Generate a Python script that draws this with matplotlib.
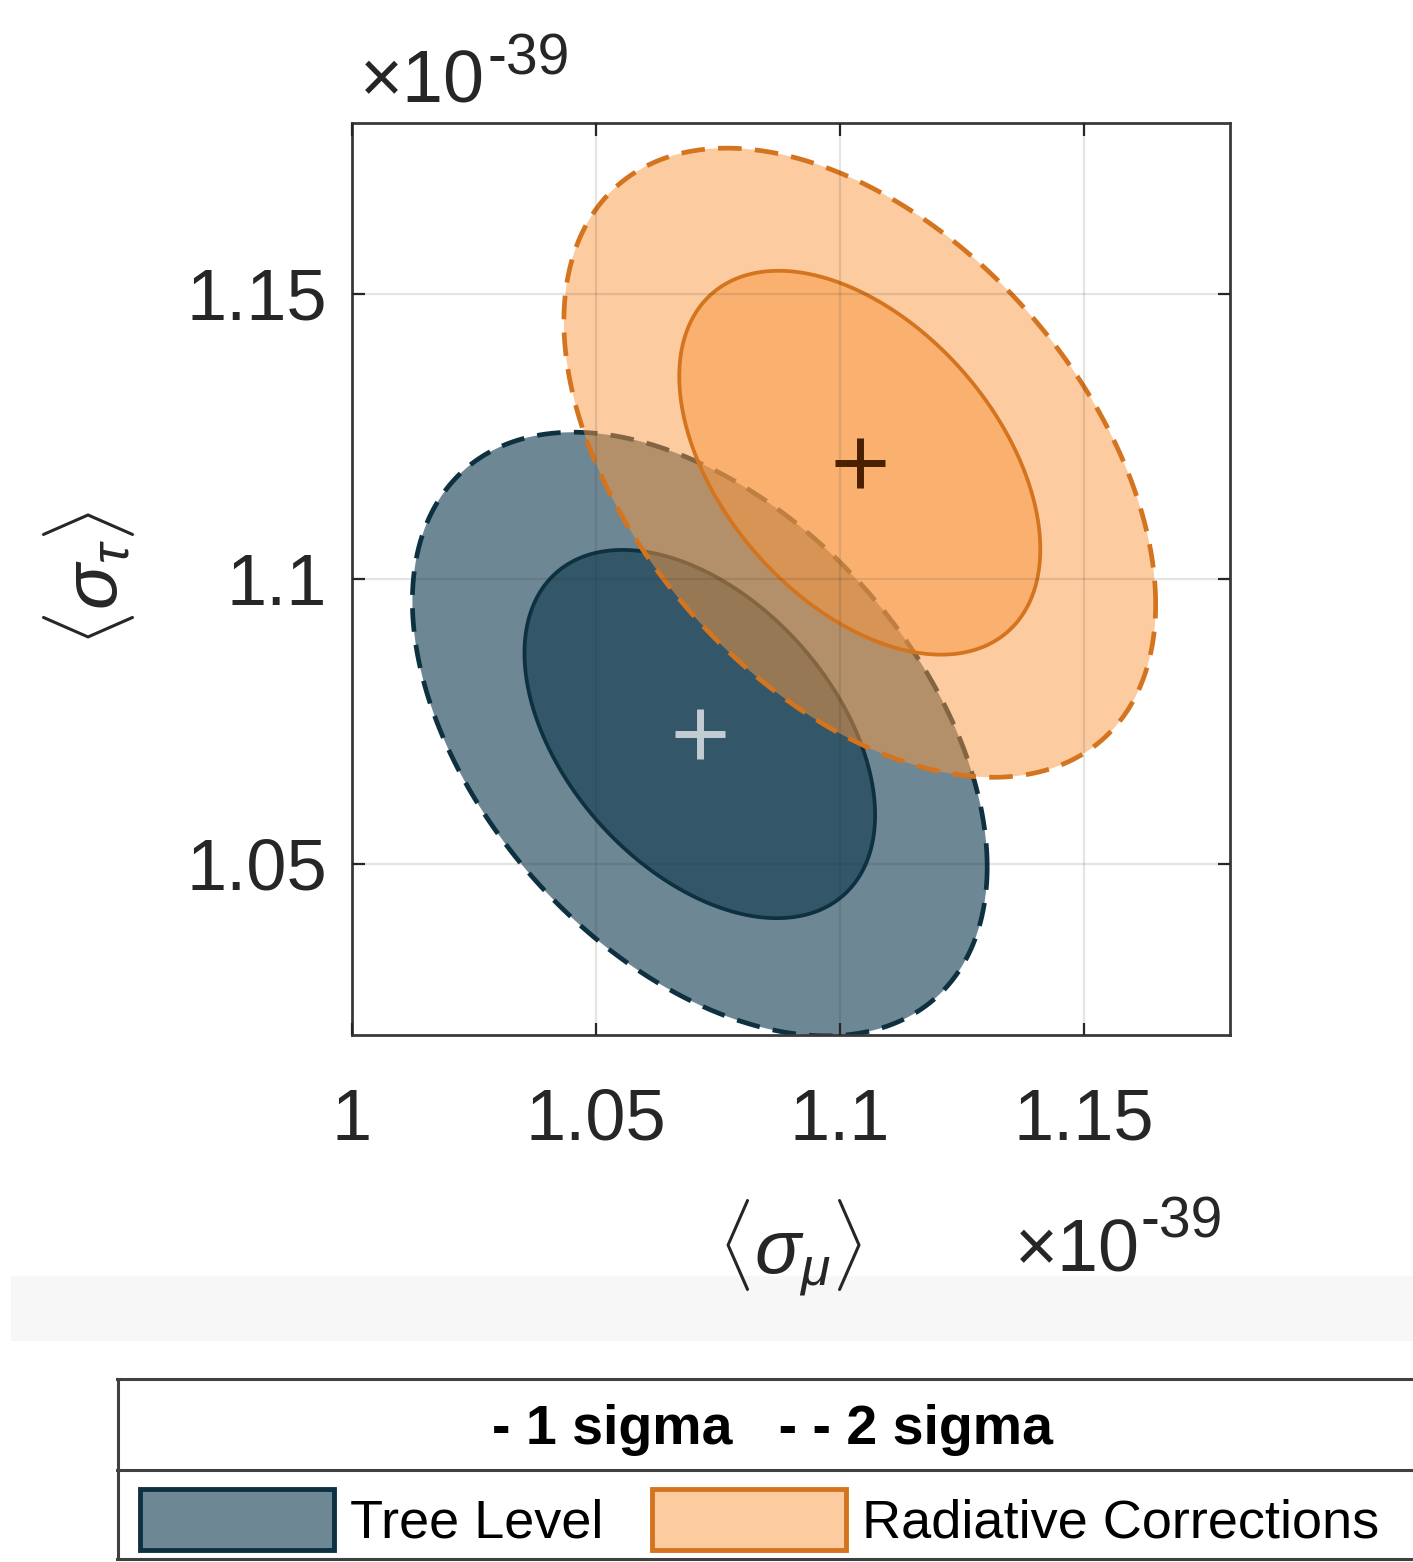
import numpy as np
import matplotlib
matplotlib.use("Agg")
import matplotlib.pyplot as plt
from matplotlib.patches import Rectangle
from matplotlib.lines import Line2D

plt.rcParams["font.family"] = ["Liberation Sans", "DejaVu Sans"]
plt.rcParams["mathtext.fontset"] = "custom"
plt.rcParams["mathtext.rm"] = "Liberation Sans"
plt.rcParams["mathtext.it"] = "Liberation Sans:italic"

# cross sections in units of 1e-39
SCALE_EXP = "-39"
models = ["Tree Level", "Radiative Corrections"]
mean_mu = [1.0713, 1.1041]
mean_tau = [1.0728, 1.1204]
sig_mu = [0.0237, 0.0244]
sig_tau = [0.0213, 0.0222]
rho = [-0.44, -0.45]

# chi^2 quantiles for 2 dof: 1 sigma (68.3%) and 2 sigma (95.4%)
levels = ["1 sigma", "2 sigma"]
chi2_levels = [2.30, 6.18]

face_colors = ["#0d384d", "#fa9942"]
face_alpha = [0.6, 0.5]
edge_colors = ["#0e3142", "#d4741f"]
center_colors = ["#c3ccd1", "#4a2000"]

xticks = [1.0, 1.05, 1.1, 1.15]
yticks = [1.05, 1.1, 1.15]
xlim = (1.0, 1.18)
ylim = (1.02, 1.18)

W, H = 1413, 1562
fig = plt.figure(figsize=(W / 100, H / 100), dpi=100, facecolor="white")

# overlay in pixel units for the background band and the legend box
ov = fig.add_axes([0, 0, 1, 1], zorder=0)
ov.set_xlim(0, W)
ov.set_ylim(H, 0)
ov.set_axis_off()

ax = fig.add_axes([352 / W, 1 - 1035 / H, 878 / W, 912 / H], zorder=1)


def ellipse(cx, cy, sx, sy, r, chi2, n=400):
    t = np.linspace(0, 2 * np.pi, n)
    cov = np.array([[sx ** 2, r * sx * sy], [r * sx * sy, sy ** 2]])
    L = np.linalg.cholesky(cov)
    pts = np.sqrt(chi2) * L @ np.vstack([np.cos(t), np.sin(t)])
    return cx + pts[0], cy + pts[1]


for i in range(len(models)):
    for chi2, ls in zip(chi2_levels[::-1], [(0, (5, 2.8)), "-"]):
        x, y = ellipse(mean_mu[i], mean_tau[i], sig_mu[i], sig_tau[i], rho[i], chi2)
        ax.fill(x, y, facecolor=matplotlib.colors.to_rgba(face_colors[i], face_alpha[i]),
                edgecolor=edge_colors[i], lw=3.4 if ls != "-" else 2.7, linestyle=ls,
                zorder=1)
    ax.plot(mean_mu[i], mean_tau[i], marker="+", ms=36, mew=5,
            color=center_colors[i], zorder=3, linestyle="none")

ax.set_xlim(*xlim)
ax.set_ylim(*ylim)
ax.set_xticks(xticks)
ax.set_yticks(yticks)
ax.xaxis.set_major_formatter(matplotlib.ticker.FuncFormatter(lambda v, p: f"{v:g}"))
ax.yaxis.set_major_formatter(matplotlib.ticker.FuncFormatter(lambda v, p: f"{v:g}"))
ax.grid(True, color=(0.15, 0.15, 0.15), alpha=0.12, lw=1.6)
ax.set_axisbelow(False)
ax.tick_params(direction="in", length=9, width=1.6, color="#262626",
               top=True, right=True, labelsize=52, labelcolor="#262626")
ax.tick_params(axis="x", pad=38)
ax.tick_params(axis="y", pad=18)
for s in ax.spines.values():
    s.set_color("#3a3a3a")
    s.set_linewidth(2.0)

ax.set_xlabel(r"$\langle\sigma_{\mu}\rangle$", fontsize=55, color="#262626")
ax.set_ylabel(r"$\langle\sigma_{\tau}\rangle$", fontsize=55, color="#262626")
ax.xaxis.set_label_coords(0.499, -0.178)
ax.yaxis.set_label_coords(-0.245, 0.5)

# exponent labels
ax.annotate("\u00d710", xy=(0.009, 1.0), xycoords="axes fraction", xytext=(0, 14.4),
            textcoords="offset points", fontsize=53, color="#262626", ha="left", va="baseline")
ax.annotate(SCALE_EXP, xy=(0.154, 1.0), xycoords="axes fraction", xytext=(0, 34.6),
            textcoords="offset points", fontsize=41, color="#262626", ha="left", va="baseline")
ax.annotate("\u00d710", xy=(0.8975, 0.0), xycoords="axes fraction", xytext=(0, -170.6),
            textcoords="offset points", fontsize=53, color="#262626", ha="right", va="baseline")
ax.annotate(SCALE_EXP, xy=(0.8975, 0.0), xycoords="axes fraction", xytext=(0, -146),
            textcoords="offset points", fontsize=41, color="#262626", ha="left", va="baseline")

# light band below the axis label
ov.add_patch(Rectangle((11, 1276), W - 11, 65, facecolor="#f7f7f7", edgecolor="none"))

# legend box
box_col = "#404040"
ov.add_line(Line2D([117, W], [1379, 1379], color=box_col, lw=2.2))
ov.add_line(Line2D([117, W], [1470, 1470], color=box_col, lw=2.2))
ov.add_line(Line2D([117, W], [1559, 1559], color=box_col, lw=2.2))
ov.add_line(Line2D([118, 118], [1379, 1559], color=box_col, lw=2.2))
ov.text(772, 1430, "- " + levels[0] + "   - - " + levels[1], fontsize=40,
        fontweight="bold", ha="center", va="center")
patch_x = [140, 652]
text_x = [350, 862]
for i in range(len(models)):
    ov.add_patch(Rectangle((patch_x[i], 1489), 194, 61,
                           facecolor=matplotlib.colors.to_rgba(face_colors[i], face_alpha[i]),
                           edgecolor=edge_colors[i], lw=3.5))
    ov.text(text_x[i], 1523, models[i], fontsize=39, ha="left", va="center")

fig.savefig("out.png", dpi=100, facecolor="white")
